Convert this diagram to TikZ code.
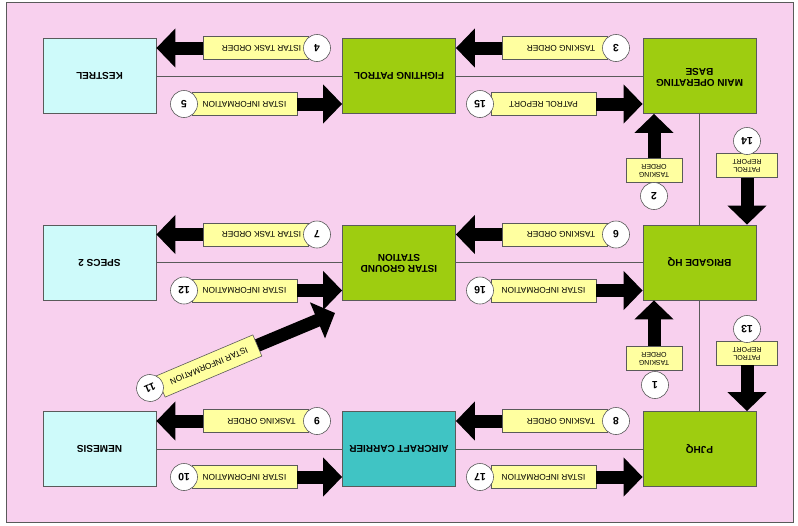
\documentclass[tikz,border=0pt]{standalone}
\usepackage{fontspec}
\setmainfont{Liberation Sans}
\usetikzlibrary{arrows.meta}
\definecolor{bgpink}{RGB}{248,208,238}
\definecolor{boxgreen}{RGB}{158,205,16}
\definecolor{boxteal}{RGB}{64,196,196}
\definecolor{boxcyan}{RGB}{206,250,250}
\definecolor{labyellow}{RGB}{255,255,160}
\definecolor{edgegray}{RGB}{90,90,90}
\newcommand{\updn}[1]{\rotatebox{180}{#1}}
\newcommand{\twol}[2]{\rotatebox{180}{\begin{tabular}{@{}c@{}}#1\\#2\end{tabular}}}
\begin{document}
\begin{tikzpicture}[x=1pt,y=-1pt,
  box/.style={draw=edgegray, line width=0.8pt, minimum width=113pt, minimum height=75pt,
    inner sep=0pt, font=\fontsize{10}{11}\selectfont\bfseries},
  gbox/.style={box, fill=boxgreen},
  cbox/.style={box, fill=boxcyan},
  tbox/.style={box, fill=boxteal},
  lab/.style={draw=edgegray, line width=0.6pt, fill=labyellow, minimum width=105pt,
    minimum height=23pt, inner sep=0pt, font=\fontsize{8.3}{9}\selectfont},
  vlab/.style={draw=edgegray, line width=0.6pt, fill=labyellow, minimum width=56pt,
    minimum height=24pt, inner sep=0pt, font=\fontsize{7}{8}\selectfont},
  num/.style={circle, draw=edgegray, line width=0.6pt, fill=white, minimum size=27pt,
    inner sep=0pt, font=\fontsize{10.5}{12}\selectfont\bfseries},
  thin/.style={draw=edgegray, line width=0.8pt},
  bigarrow/.style={line width=13pt, -{Triangle[length=19pt,width=38pt]}}
]
\useasboundingbox (0,0) rectangle (798,525);
\fill[white] (0,0) rectangle (798,525);
\draw[edgegray, fill=bgpink, line width=1pt] (6,2) rectangle (793,522);

% boxes
\node[cbox] (kes) at (99.5,76) {\updn{KESTREL}};
\node[gbox] (fp) at (399,76) {\updn{FIGHTING PATROL}};
\node[gbox] (mob) at (699.5,76) {\twol{MAIN OPERATING}{BASE}};
\node[cbox] (spe) at (99.5,262.5) {\updn{SPECS 2}};
\node[gbox] (igs) at (399,262.5) {\twol{ISTAR GROUND}{STATION}};
\node[gbox] (bhq) at (699.5,262.5) {\updn{BRIGADE HQ}};
\node[cbox] (nem) at (99.5,449) {\updn{NEMESIS}};
\node[tbox] (air) at (399,449) {\updn{AIRCRAFT CARRIER}};
\node[gbox] (pj) at (699.5,449) {\updn{PJHQ}};

% thin connecting lines
\draw[thin] (kes.east) -- (fp.west);
\draw[thin] (fp.east) -- (mob.west);
\draw[thin] (spe.east) -- (igs.west);
\draw[thin] (igs.east) -- (bhq.west);
\draw[thin] (nem.east) -- (air.west);
\draw[thin] (air.east) -- (pj.west);
\draw[thin] (mob.south) -- (bhq.north);
\draw[thin] (bhq.south) -- (pj.north);

% labels row 1
\node[lab] (l4) at (255.5,48) {\updn{ISTAR TASK ORDER\hspace{12pt}}};
\node[lab] (l5) at (244.5,104) {\updn{ISTAR INFORMATION}};
\node[lab] (l3) at (555,48) {\updn{TASKING ORDER\hspace{12pt}}};
\node[lab] (l15) at (543.5,104) {\updn{PATROL REPORT}};
% labels row 2
\node[lab] (l7) at (255.5,234.5) {\updn{ISTAR TASK ORDER\hspace{12pt}}};
\node[lab] (l12) at (244.5,290.5) {\updn{ISTAR INFORMATION}};
\node[lab] (l6) at (555,234.5) {\updn{TASKING ORDER\hspace{12pt}}};
\node[lab] (l16) at (543.5,290.5) {\updn{ISTAR INFORMATION}};
% labels row 3
\node[lab] (l9) at (255.5,421) {\updn{TASKING ORDER\hspace{12pt}}};
\node[lab] (l10) at (244.5,477) {\updn{ISTAR INFORMATION}};
\node[lab] (l8) at (555,421) {\updn{TASKING ORDER\hspace{12pt}}};
\node[lab] (l17) at (543.5,477) {\updn{ISTAR INFORMATION}};
% vertical labels
\node[vlab] (l2) at (654,170.5) {\twol{TASKING}{ORDER}};
\node[vlab] (l1) at (654,358) {\twol{TASKING}{ORDER}};
\node[vlab, minimum width=61pt] (l14) at (747,165.5) {\twol{PATROL}{REPORT}};
\node[vlab, minimum width=61pt] (l13) at (747,353) {\twol{PATROL}{REPORT}};
% diagonal label
\node[lab, rotate=203] (l11) at (209,366) {ISTAR INFORMATION\hspace{12pt}};
\coordinate (t11) at (335,313);

% big arrows
\draw[bigarrow] (l4.west) -- (l4.west -| kes.east);
\draw[bigarrow] (l5.east) -- (l5.east -| fp.west);
\draw[bigarrow] (l3.west) -- (l3.west -| fp.east);
\draw[bigarrow] (l15.east) -- (l15.east -| mob.west);
\draw[bigarrow] (l7.west) -- (l7.west -| spe.east);
\draw[bigarrow] (l12.east) -- (l12.east -| igs.west);
\draw[bigarrow] (l6.west) -- (l6.west -| igs.east);
\draw[bigarrow] (l16.east) -- (l16.east -| bhq.west);
\draw[bigarrow] (l9.west) -- (l9.west -| nem.east);
\draw[bigarrow] (l10.east) -- (l10.east -| air.west);
\draw[bigarrow] (l8.west) -- (l8.west -| air.east);
\draw[bigarrow] (l17.east) -- (l17.east -| pj.west);
\draw[bigarrow] (l2.north) -- (l2.north |- mob.south);
\draw[bigarrow] (l1.north) -- (l1.north |- bhq.south);
\draw[bigarrow] (l14.south) -- (l14.south |- bhq.north);
\draw[bigarrow] (l13.south) -- (l13.south |- pj.north);
\draw[bigarrow] (l11.west) -- (t11);

% number circles
\node[num] (c4) at (317,48) {\updn{4}};
\node[num] (c5) at (184,104) {\updn{5}};
\node[num] (c3) at (616,48) {\updn{3}};
\node[num] (c15) at (480,104) {\updn{15}};
\node[num] (c7) at (317,234.5) {\updn{7}};
\node[num] (c12) at (184,290.5) {\updn{12}};
\node[num] (c6) at (616,234.5) {\updn{6}};
\node[num] (c16) at (480,290.5) {\updn{16}};
\node[num] (c9) at (317,421) {\updn{9}};
\node[num] (c10) at (184,477) {\updn{10}};
\node[num] (c8) at (616,421) {\updn{8}};
\node[num] (c17) at (480,477) {\updn{17}};
\node[num] (c2) at (654,196) {\updn{2}};
\node[num] (c1) at (655,385) {\updn{1}};
\node[num] (c14) at (747,141) {\updn{14}};
\node[num] (c13) at (747,329) {\updn{13}};
\node[num, rotate=203] (c11) at (150,388) {11};
\end{tikzpicture}
\end{document}
